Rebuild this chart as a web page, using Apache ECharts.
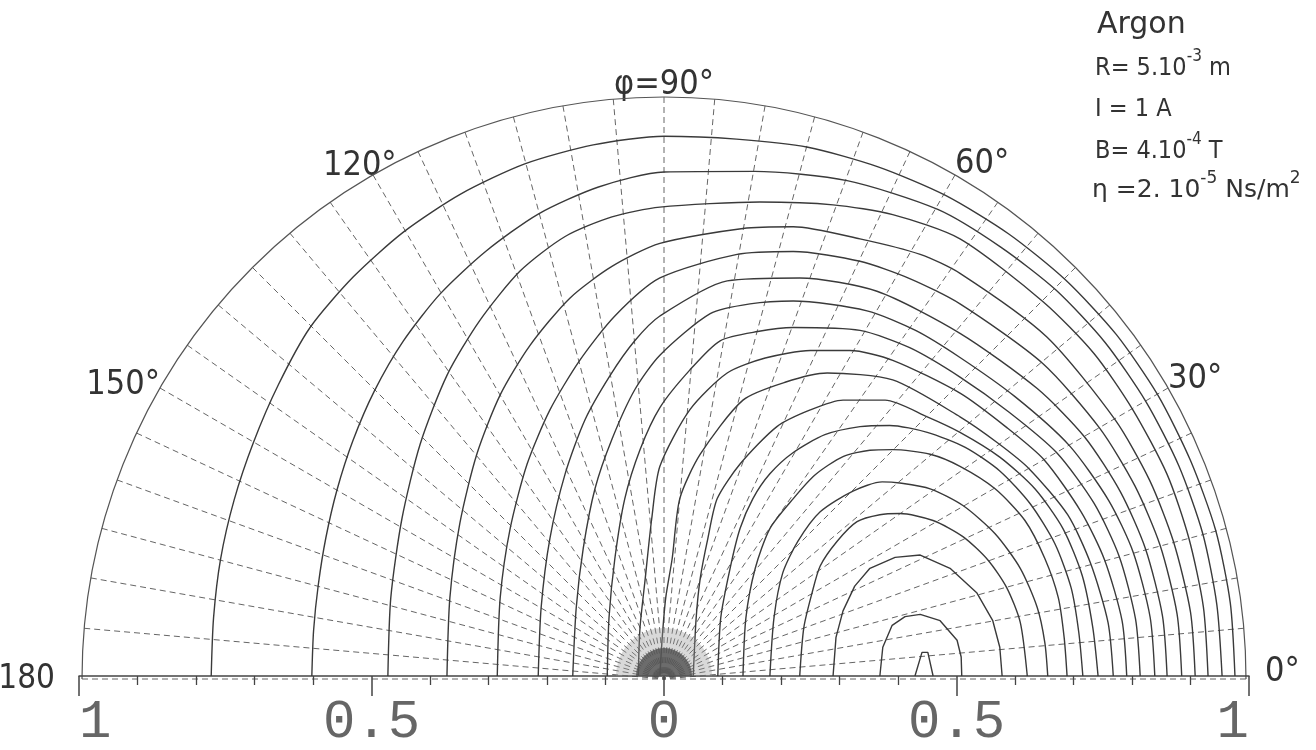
<!DOCTYPE html>
<html>
<head>
<meta charset="utf-8">
<script src="https://cdn.jsdelivr.net/npm/echarts@6/dist/echarts.min.js"></script>
<style>
  html, body { margin: 0; padding: 0; background: #fff; }
  #chart { width: 1316px; height: 750px; }
</style>
</head>
<body>
<div id="chart"></div>
<script>
// streamlines, x/R and y/R, from left foot over to right foot
const c1 = [[0.429,0],[0.441,0.041],[0.451,0.041],[0.460,0]];
const c2 = [[0.369,0],[0.374,0.050],[0.390,0.088],[0.412,0.103],[0.438,0.107],[0.472,0.096],[0.501,0.062],[0.508,0.033],[0.509,0]];
const c3 = [[0.289,0],[0.294,0.067],[0.306,0.113],[0.326,0.156],[0.352,0.187],[0.395,0.206],[0.438,0.210],[0.489,0.187],[0.535,0.144],[0.562,0.096],[0.574,0.050],[0.578,0]];
const c4 = [[0.232,0],[0.239,0.084],[0.253,0.144],[0.267,0.191],[0.296,0.234],[0.330,0.268],[0.369,0.280],[0.403,0.282],[0.460,0.270],[0.511,0.242],[0.554,0.201],[0.586,0.153],[0.609,0.093],[0.621,0]];
const c5 = [[0.181,0],[0.188,0.101],[0.203,0.179],[0.229,0.234],[0.267,0.285],[0.323,0.321],[0.373,0.337],[0.403,0.335],[0.455,0.325],[0.511,0.296],[0.566,0.247],[0.609,0.187],[0.638,0.119],[0.651,0.058],[0.656,0]];
const c6 = [[0.135,0],[0.140,0.101],[0.156,0.187],[0.181,0.256],[0.221,0.308],[0.258,0.349],[0.306,0.381],[0.352,0.392],[0.391,0.393],[0.455,0.385],[0.506,0.364],[0.566,0.325],[0.617,0.270],[0.651,0.204],[0.674,0.136],[0.684,0.067],[0.689,0]];
const c7 = [[0.092,0],[0.097,0.101],[0.113,0.187],[0.130,0.256],[0.152,0.308],[0.181,0.351],[0.221,0.388],[0.275,0.419],[0.335,0.433],[0.386,0.435],[0.450,0.423],[0.515,0.397],[0.574,0.356],[0.626,0.299],[0.668,0.230],[0.696,0.153],[0.709,0.076],[0.716,0]];
const c8 = [[0.050,0],[0.055,0.101],[0.062,0.170],[0.075,0.239],[0.091,0.308],[0.130,0.368],[0.193,0.433],[0.250,0.462],[0.306,0.479],[0.378,0.479],[0.450,0.450],[0.506,0.423],[0.574,0.380],[0.634,0.325],[0.682,0.256],[0.715,0.174],[0.733,0.084],[0.742,0]];
const c9 = [[-0.007,0],[-0.003,0.067],[0.003,0.136],[0.014,0.204],[0.027,0.308],[0.062,0.385],[0.135,0.479],[0.207,0.510],[0.279,0.526],[0.391,0.514],[0.506,0.450],[0.570,0.405],[0.624,0.360],[0.690,0.280],[0.729,0.196],[0.759,0.093],[0.768,0]];
const c10 = [[-0.044,0],[-0.041,0.084],[-0.032,0.170],[-0.021,0.273],[-0.007,0.364],[0.044,0.462],[0.108,0.526],[0.173,0.552],[0.250,0.565],[0.318,0.565],[0.391,0.548],[0.506,0.491],[0.585,0.432],[0.650,0.375],[0.713,0.285],[0.753,0.202],[0.783,0.096],[0.791,0]];
const c11 = [[-0.097,0],[-0.094,0.101],[-0.084,0.204],[-0.067,0.308],[-0.041,0.393],[-0.007,0.466],[0.044,0.531],[0.096,0.582],[0.160,0.598],[0.221,0.605],[0.335,0.600],[0.420,0.570],[0.506,0.519],[0.590,0.458],[0.671,0.388],[0.735,0.300],[0.778,0.208],[0.806,0.099],[0.814,0]];
const c12 = [[-0.156,0],[-0.150,0.119],[-0.138,0.222],[-0.118,0.325],[-0.089,0.411],[-0.050,0.497],[-0.007,0.557],[0.079,0.629],[0.147,0.646],[0.221,0.651],[0.347,0.634],[0.430,0.600],[0.506,0.553],[0.600,0.485],[0.693,0.400],[0.760,0.305],[0.802,0.215],[0.831,0.102],[0.839,0]];
const c13 = [[-0.215,0],[-0.210,0.119],[-0.195,0.239],[-0.169,0.351],[-0.135,0.445],[-0.092,0.522],[-0.050,0.582],[-0.007,0.625],[0.108,0.686],[0.232,0.691],[0.364,0.668],[0.506,0.595],[0.638,0.499],[0.719,0.415],[0.780,0.320],[0.823,0.221],[0.852,0.105],[0.860,0]];
const c14 = [[-0.285,0],[-0.280,0.136],[-0.263,0.256],[-0.234,0.368],[-0.195,0.462],[-0.144,0.548],[-0.084,0.625],[-0.007,0.691],[0.125,0.732],[0.221,0.737],[0.335,0.720],[0.420,0.690],[0.506,0.646],[0.647,0.543],[0.745,0.430],[0.805,0.330],[0.848,0.227],[0.877,0.108],[0.885,0]];
const c15 = [[-0.371,0],[-0.366,0.136],[-0.349,0.265],[-0.320,0.385],[-0.280,0.488],[-0.229,0.574],[-0.161,0.656],[-0.089,0.711],[-0.007,0.751],[0.135,0.777],[0.221,0.780],[0.335,0.759],[0.438,0.732],[0.506,0.699],[0.654,0.589],[0.771,0.445],[0.830,0.340],[0.871,0.233],[0.900,0.111],[0.908,0]];
const c16 = [[-0.472,0],[-0.467,0.136],[-0.448,0.273],[-0.417,0.402],[-0.371,0.522],[-0.315,0.617],[-0.246,0.703],[-0.169,0.763],[-0.089,0.797],[-0.007,0.814],[0.164,0.823],[0.289,0.818],[0.391,0.801],[0.506,0.759],[0.649,0.649],[0.735,0.560],[0.801,0.463],[0.860,0.350],[0.897,0.240],[0.922,0.120],[0.930,0]];
const c17 = [[-0.602,0],[-0.599,0.079],[-0.591,0.158],[-0.578,0.240],[-0.559,0.323],[-0.532,0.408],[-0.495,0.495],[-0.446,0.581],[-0.383,0.663],[-0.305,0.737],[-0.215,0.802],[-0.112,0.849],[0,0.875],[0.155,0.876],[0.313,0.860],[0.468,0.810],[0.575,0.745],[0.670,0.670],[0.754,0.579],[0.824,0.476],[0.880,0.365],[0.921,0.247],[0.945,0.124],[0.954,0]];
const c18 = [[-0.774,0],[-0.770,0.101],[-0.758,0.203],[-0.735,0.305],[-0.702,0.405],[-0.659,0.506],[-0.605,0.605],[-0.531,0.693],[-0.445,0.771],[-0.347,0.837],[-0.238,0.889],[-0.121,0.922],[0,0.937],[0.124,0.932],[0.246,0.918],[0.366,0.884],[0.482,0.834],[0.590,0.767],[0.687,0.687],[0.773,0.593],[0.844,0.488],[0.900,0.374],[0.943,0.253],[0.968,0.127],[0.976,0]];

const curves = [c1, c2, c3, c4, c5, c6, c7, c8, c9, c10, c11, c12, c13, c14, c15, c16, c17, c18];

// angle labels (phi)
const angleLabels = { 0: '0°', 30: '30°', 60: '60°', 90: 'φ=90°', 120: '120°', 150: '150°', 180: '180' };

// the electrode spot at the origin
const origin = [[0, 0]];

const chart = echarts.init(document.getElementById('chart'));

const lblFont = "'DejaVu Sans Condensed', 'DejaVu Sans', sans-serif";
const halfDisc = 'path://M0,50 A50,50 0 0 1 100,50 Z';

const lineSeries = curves.map((c, i) => ({
    type: 'line',
    data: c,
    showSymbol: false,
    silent: true,
    smooth: i < 3 ? false : 0.25,
    lineStyle: { color: '#3a3a3a', width: 1.4 },
    z: 3
}));

const lbl = (extra) => Object.assign({ fontFamily: lblFont, fontSize: 34, color: '#333' }, extra);

function paramText(x, y, text, font) {
    font = font || lblFont;
    return {
        type: 'text', x: x, y: y,
        style: {
            text: text,
            fontFamily: font, fontSize: 25, fill: '#333',
            verticalAlign: 'middle', lineHeight: 40,
            rich: {
                s: { fontFamily: font, fontSize: 17, lineHeight: 17, verticalAlign: 'top' }
            }
        }
    };
}

const option = {
    backgroundColor: '#fff',
    animation: false,
    polar: { center: [664, 679], radius: 582 },
    angleAxis: {
        type: 'value',
        min: 0, max: 180,
        startAngle: 0, endAngle: 180,
        clockwise: false,
        interval: 5,
        axisLine: { lineStyle: { color: '#555', width: 1.2 } },
        axisTick: { show: false },
        splitLine: { show: true, lineStyle: { color: '#666', width: 1, type: [6, 4] } },
        axisLabel: {
            margin: 0,
            color: '#333',
            fontFamily: lblFont,
            fontSize: 34,
            formatter: v => {
                const s = angleLabels[v];
                if (!s) return '';
                return '{a' + v + '|' + s + '}';
            },
            rich: {
                a0: lbl({ padding: [0, 0, 14, 19] }),
                a30: lbl({ lineHeight: 18 }),
                a60: lbl({ lineHeight: 22 }),
                a90: lbl({ lineHeight: 24 }),
                a120: lbl({ lineHeight: 18, width: 50, align: 'left' }),
                a150: lbl({ lineHeight: 6 }),
                a180: lbl({ fontSize: 33, padding: [0, 27, 0, 0] })
            }
        }
    },
    radiusAxis: {
        type: 'value', min: 0, max: 1,
        axisLine: { show: false }, axisTick: { show: false },
        axisLabel: { show: false }, splitLine: { show: false }
    },
    grid: { left: 79, right: 67, top: 100, bottom: 71 },
    xAxis: {
        type: 'value',
        min: -1, max: 1, interval: 0.5,
        axisLine: { lineStyle: { color: '#444', width: 1.5 } },
        axisTick: { length: 20, lineStyle: { color: '#444', width: 1.5 } },
        minorTick: { show: true, splitNumber: 5, length: 9, lineStyle: { color: '#444', width: 1.3 } },
        splitLine: { show: false },
        axisLabel: {
            margin: 20,
            color: '#666',
            fontFamily: "'Liberation Mono', 'DejaVu Sans Mono', monospace",
            fontSize: 54,
            alignMinLabel: 'left',
            alignMaxLabel: 'right',
            formatter: v => String(Math.abs(v))
        }
    },
    yAxis: { type: 'value', min: 0, max: 1, show: false },
    series: lineSeries.concat([
        {
            type: 'scatter',
            data: origin,
            symbol: halfDisc,
            symbolSize: [96, 48],
            symbolKeepAspect: false,
            symbolOffset: [0, -24],
            silent: true,
            itemStyle: { color: 'rgba(150,150,150,0.45)' },
            z: 4
        },
        {
            type: 'scatter',
            data: origin,
            symbol: halfDisc,
            symbolSize: [56, 28],
            symbolKeepAspect: false,
            symbolOffset: [0, -14],
            silent: true,
            itemStyle: { color: '#505050' },
            z: 5
        }
    ]),
    graphic: [
        {
            type: 'text', x: 1097, y: 25,
            style: { text: 'Argon', fontFamily: "'DejaVu Sans', sans-serif", fontSize: 30, fill: '#333', verticalAlign: 'middle' }
        },
        paramText(1095, 68, 'R= 5.10{s|-3} m'),
        paramText(1095, 109, 'I = 1 A'),
        paramText(1095, 151, 'B= 4.10{s|-4} T'),
        paramText(1092, 190, 'η =2. 10{s|-5} Ns/m{s|2}', "'DejaVu Sans', sans-serif")
    ]
};

chart.setOption(option);
</script>
</body>
</html>
